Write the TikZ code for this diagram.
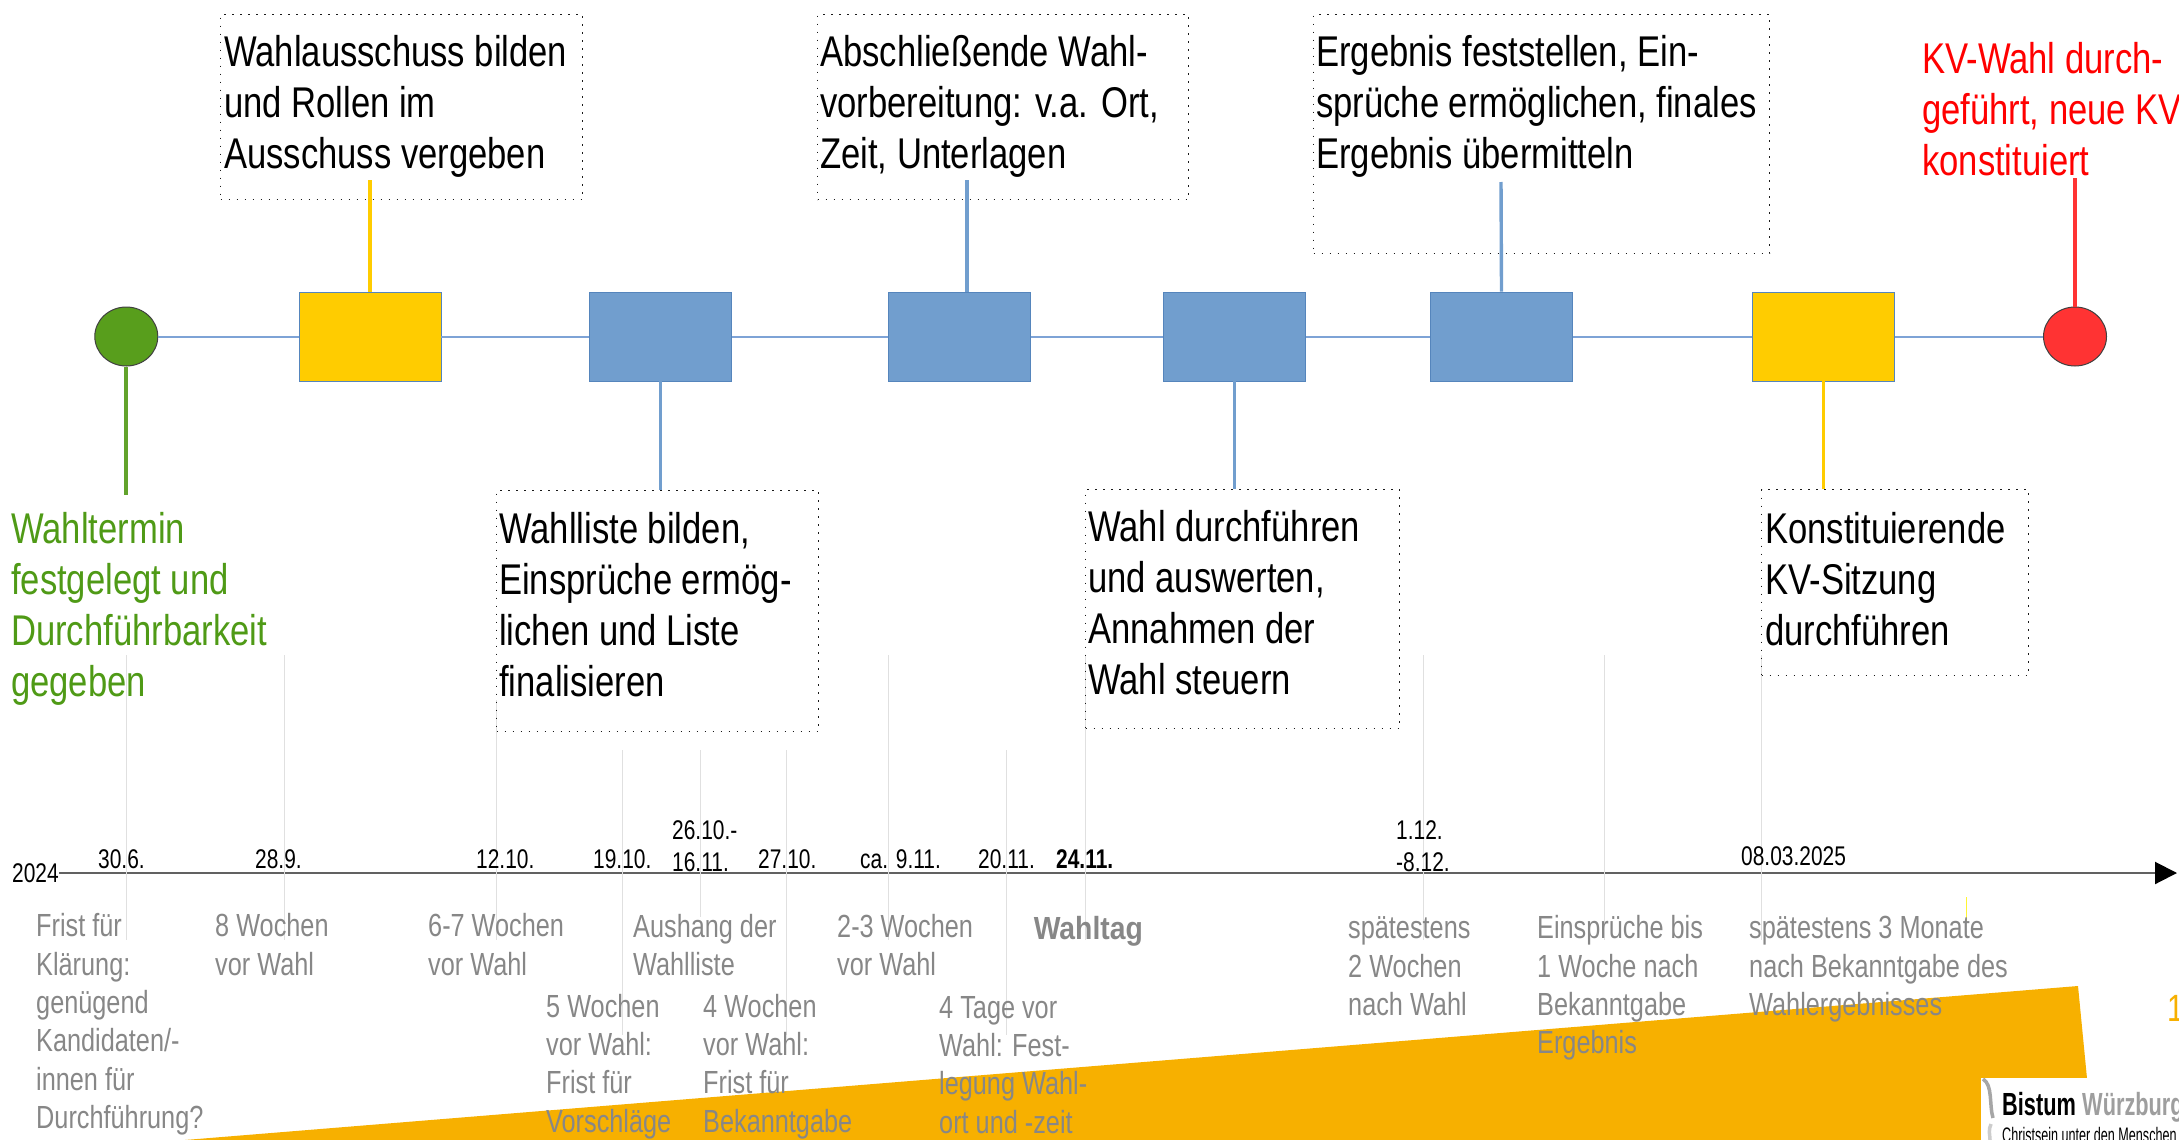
\documentclass[tikz,border=0pt]{standalone}
\usepackage{fontspec}
\setmainfont{Liberation Sans}
\newfontfamily\fbig[FakeStretch=.805]{Liberation Sans}
\newfontfamily\fgrey[FakeStretch=.79]{Liberation Sans}
\newfontfamily\fwahl[FakeStretch=.885]{Liberation Sans}
\newfontfamily\fdate[FakeStretch=.775]{Liberation Sans}
\newfontfamily\flogo[FakeStretch=.68]{Liberation Sans}
\newfontfamily\fclaim[FakeStretch=.6]{Liberation Sans}
\usetikzlibrary{shapes.geometric,arrows.meta}
\definecolor{bluefill}{HTML}{719ECE}
\definecolor{blueedge}{HTML}{5585BC}
\definecolor{blueline}{HTML}{7EA3D6}
\definecolor{yelfill}{HTML}{FFCC00}
\definecolor{greenfill}{HTML}{589E1C}
\definecolor{greenline}{HTML}{62A32C}
\definecolor{greentext}{HTML}{4F9A16}
\definecolor{redfill}{HTML}{FF3333}
\definecolor{greytext}{HTML}{878787}
\definecolor{tickgrey}{HTML}{E0E0E0}
\definecolor{orangefill}{HTML}{F7B000}
\tikzset{
 x=1pt,y=-1pt,
 stage/.style={draw=blueedge,line width=.9pt,minimum width=142pt,minimum height=89pt,inner sep=0pt},
 bluestage/.style={stage,fill=bluefill},
 yelstage/.style={stage,fill=yelfill},
 endpoint/.style={ellipse,draw=black!75,line width=1pt,minimum width=63pt,minimum height=59pt,inner sep=0pt},
 flow/.style={draw=blueline,line width=2pt},
 stemblue/.style={draw=bluefill,line width=3.4pt},
 stemyel/.style={draw=yelfill,line width=3.6pt},
 stemgreen/.style={draw=greenline,line width=4.3pt},
 stemred/.style={draw=redfill,line width=4pt},
 dotbox/.style={draw=black!90,line width=1.3pt,dash pattern=on 1.6pt off 6.4pt,inner sep=0pt,anchor=north west},
 bigtext/.style={anchor=north west,inner sep=0pt,align=left,font=\fbig\fontsize{43}{51}\selectfont},
 greytxt/.style={anchor=north west,inner sep=0pt,align=left,text=greytext,font=\fgrey\fontsize{32}{38.4}\selectfont},
 datetxt/.style={anchor=north west,inner sep=0pt,align=left,font=\fdate\fontsize{27}{32}\selectfont},
 tick/.style={draw=tickgrey,line width=.9pt},
}
\begin{document}
\begin{tikzpicture}
\path[use as bounding box,clip] (0,0) rectangle (2179,1140);
% orange wedge
\fill[orangefill] (185,1140) -- (2078,986) -- (2093,1140) -- cycle;
% logo
\fill[white] (1981,1078) rectangle (2179,1140);
\draw[black!35,line width=3.5pt] (1983,1079) .. controls (1993,1085) and (1989,1105) .. (1993,1118);
\draw[black!20,line width=3.5pt] (1991,1124) .. controls (1988,1130) and (1990,1135) .. (1990,1140);
\node[anchor=base west,inner sep=0pt,font=\flogo\bfseries\fontsize{32}{38}\selectfont] (logoA) at (2002,1115) {Bistum};
\node[anchor=base west,inner sep=0pt,text=black!38,font=\flogo\bfseries\fontsize{32}{38}\selectfont] (logoB) at (2082,1115) {Würzburg};
\node[anchor=base west,inner sep=0pt,font=\fclaim\fontsize{21}{25}\selectfont] (logoC) at (2002,1142) {Christsein unter den Menschen};
\node[anchor=base west,inner sep=0pt,text=orangefill,font=\fgrey\fontsize{38}{44}\selectfont] (pagenum) at (2167,1021) {1};
% grey ticks
\foreach \px/\pa/\pb/\pn in {126/655/940/a,284/655/940/b,496/700/940/c,622/750/1035/d,700/750/917/e,786/750/1035/f,888/655/940/g,1006/750/1035/h,1085/655/940/i,1423/655/940/j,1604/655/940/k,1761/655/940/l}{
  \coordinate (tick\pn a) at (\px,\pa);
  \coordinate (tick\pn b) at (\px,\pb);
}
% axis
\coordinate (axisA) at (59,873);
\coordinate (axisB) at (2177,873);
\draw[draw=black!62,line width=2pt,-{Triangle[length=22pt,width=22pt,fill=black,color=black]}] (axisA) -- (axisB);
\foreach \pn in {a,b,c,d,e,f,g,h,i,j,k,l}{\draw[tick] (tick\pn a) -- (tick\pn b);}
\coordinate (yelA) at (1966.7,897);
\coordinate (yelB) at (1966.7,923);
\draw[draw=yellow!80!white,line width=1pt] (yelA) -- (yelB);
% stages
\node[endpoint,fill=greenfill] (start) at (126.3,336.5) {};
\node[yelstage] (s1) at (370,336.5) {};
\node[bluestage] (s2) at (660.5,336.5) {};
\node[bluestage] (s3) at (959.5,336.5) {};
\node[bluestage] (s4) at (1234.5,336.5) {};
\node[bluestage] (s5) at (1501.5,336.5) {};
\node[yelstage] (s6) at (1823.5,336.5) {};
\node[endpoint,fill=redfill] (stop) at (2075,336.5) {};
\draw[flow] (start) -- (s1);
\draw[flow] (s1) -- (s2);
\draw[flow] (s2) -- (s3);
\draw[flow] (s3) -- (s4);
\draw[flow] (s4) -- (s5);
\draw[flow] (s5) -- (s6);
\draw[flow] (s6) -- (stop);
% dotted boxes
\node[dotbox,minimum width=362pt,minimum height=185pt] (t1) at (220,14) {};
\node[dotbox,minimum width=322pt,minimum height=241pt] (t2) at (496,490) {};
\node[dotbox,minimum width=371pt,minimum height=185pt] (t3) at (817,14) {};
\node[dotbox,minimum width=314pt,minimum height=239pt] (t4) at (1085,489) {};
\node[dotbox,minimum width=456pt,minimum height=239pt] (t5) at (1313,14) {};
\node[dotbox,minimum width=267pt,minimum height=186pt] (t6) at (1761,489) {};
% stems
\coordinate (e0) at (126.3,495);
\coordinate (e1) at (370,180);
\coordinate (e3a) at (967,292);
\coordinate (e3) at (967,180);
\coordinate (e5) at (1501,182);
\coordinate (e7) at (2075,178);
\draw[stemgreen] (start) -- (e0);
\draw[stemyel] (s1.north) -- (e1);
\draw[stemblue] (s2.south) -- (s2.south |- t2.north);
\draw[stemblue] (e3a) -- (e3);
\draw[stemblue] (s4.south) -- (s4.south |- t4.north);
\draw[stemblue] (s5.north) -- (e5);
\draw[stemyel] (s6.south) -- (s6.south |- t6.north);
\draw[stemred] (stop) -- (e7);
% big texts
\node[bigtext] (x1) at (224,31) {\strut Wahlausschuss bilden\\und Rollen im\\Ausschuss vergeben};
\node[bigtext,text=greentext] (x0) at (11,508) {\strut Wahltermin\\festgelegt und\\Durchführbarkeit\\gegeben};
\node[bigtext] (x2) at (499,508) {\strut Wahlliste bilden,\\Einsprüche ermög-\\lichen und Liste\\finalisieren};
\node[bigtext] (x3) at (820,31) {\strut Abschließende Wahl-\\vorbereitung: v.a. Ort,\\Zeit, Unterlagen};
\node[bigtext] (x4) at (1088,506) {\strut Wahl durchführen\\und auswerten,\\Annahmen der\\Wahl steuern};
\node[bigtext] (x5) at (1316,31) {\strut Ergebnis feststellen, Ein-\\sprüche ermöglichen, finales\\Ergebnis übermitteln};
\node[bigtext] (x6) at (1765,508) {\strut Konstituierende\\KV-Sitzung\\durchführen};
\node[bigtext,text=red] (x7) at (1922,38) {\strut KV-Wahl durch-\\geführt, neue KV\\konstituiert};
% dates
\node[datetxt] (d0) at (12,859.6) {\strut 2024};
\node[datetxt] (d1) at (98,845.6) {\strut 30.6.};
\node[datetxt] (d2) at (255,845.6) {\strut 28.9.};
\node[datetxt] (d3) at (476,845.6) {\strut 12.10.};
\node[datetxt] (d4) at (593,845.6) {\strut 19.10.};
\node[datetxt] (d5) at (672,816.6) {\strut 26.10.-\\16.11.};
\node[datetxt] (d6) at (758,845.6) {\strut 27.10.};
\node[datetxt] (d7) at (860,845.6) {\strut ca. 9.11.};
\node[datetxt] (d8) at (978,845.6) {\strut 20.11.};
\node[datetxt] (d9) at (1056,845.6) {\strut\bfseries 24.11.};
\node[datetxt] (d10) at (1396,816.6) {\strut 1.12.\\-8.12.};
\node[datetxt] (d11) at (1741,842.6) {\strut 08.03.2025};
% grey texts
\node[greytxt] (g1) at (36,909.6) {\strut Frist für\\Klärung:\\genügend\\Kandidaten/-\\innen für\\Durchführung?};
\node[greytxt] (g2) at (215,909.6) {\strut 8 Wochen\\vor Wahl};
\node[greytxt] (g3) at (428,909.6) {\strut 6-7 Wochen\\vor Wahl};
\node[greytxt] (g4) at (633,910.1) {\strut Aushang der\\Wahlliste};
\node[greytxt] (g5) at (837,910.1) {\strut 2-3 Wochen\\vor Wahl};
\node[greytxt] (g6) at (546,990.1) {\strut 5 Wochen\\vor Wahl:\\Frist für\\Vorschläge};
\node[greytxt] (g7) at (703,990.1) {\strut 4 Wochen\\vor Wahl:\\Frist für\\Bekanntgabe};
\node[greytxt] (g8) at (939,991.1) {\strut 4 Tage vor\\Wahl: Fest-\\legung Wahl-\\ort und -zeit};
\node[greytxt,font=\fwahl\bfseries\fontsize{32}{38.4}\selectfont] (g9) at (1033.6,912.1) {\strut Wahltag};
\node[greytxt] (g10) at (1348,911.6) {\strut spätestens\\2 Wochen\\nach Wahl};
\node[greytxt] (g11) at (1537,911.6) {\strut Einsprüche bis\\1 Woche nach\\Bekanntgabe\\Ergebnis};
\node[greytxt] (g12) at (1749,911.6) {\strut spätestens 3 Monate\\nach Bekanntgabe des\\Wahlergebnisses};
\end{tikzpicture}
\end{document}
